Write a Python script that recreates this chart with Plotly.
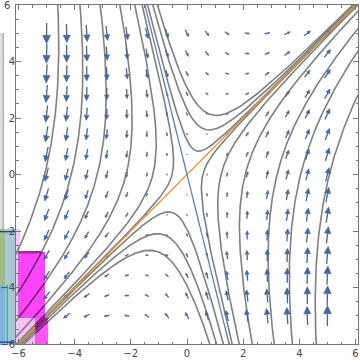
import numpy as np
import plotly.graph_objects as go

# ---------------- data ----------------
# linear field  x' = a*x + b*y ,  y' = c*x + d*y
field_a, field_b, field_c, field_d = 1.0, 1.0, 4.0, -2.0
# arrow sample positions (both axes)
grid_vals = [-5.0, -4.2857, -3.5714, -2.8571, -2.1429, -1.4286, -0.7143, 0.0,
             0.7143, 1.4286, 2.1429, 2.8571, 3.5714, 4.2857, 5.0]
# stream line seeds: x where each line crosses the top edge (y=6) / bottom edge (y=-6)
top_entry_x = [-4.6, -3.81, -3.09, -2.38, -1.85, -1.59, -1.41, -1.23, -1.06]
bottom_entry_x = [4.6, 3.75, 3.1, 2.32, 1.85, 1.6, 1.3, 1.06, 0.82]
# eigen-directions drawn as lines (slopes)
unstable_slope = 1.0
stable_slope = -4.0
tick_vals = [-6, -4, -2, 0, 2, 4, 6]
tick_text = ["−6", "−4", "−2", "0", "2", "4", "6"]

# ---------------- geometry ----------------
W, H = 360, 364
ML, MR, MT, MB = 16, 2, 5, 20
xr = [-6.09, 6.09]
yr = [-6.0, 6.002]
sx = (W - ML - MR) / (xr[1] - xr[0])
sy = (H - MT - MB) / (yr[1] - yr[0])
PW, PH = W - ML - MR, H - MT - MB


def field(x, y):
    return field_a * x + field_b * y, field_c * x + field_d * y


# eigen decomposition (analytic trajectories)
Amat = np.array([[field_a, field_b], [field_c, field_d]])
evals, evecs = np.linalg.eig(Amat)
Vinv = np.linalg.inv(evecs)


def trajectory(x0, y0):
    coef = Vinv @ np.array([x0, y0])
    t = np.linspace(-4, 4, 6000)
    pts = np.outer(coef[0] * np.exp(evals[0] * t), evecs[:, 0]) + \
        np.outer(coef[1] * np.exp(evals[1] * t), evecs[:, 1])
    xs, ys = pts[:, 0].copy(), pts[:, 1].copy()
    bad = (np.abs(xs) > 7) | (np.abs(ys) > 7)
    xs[bad] = np.nan
    ys[bad] = np.nan
    return xs, ys


# magenta highlight boxes (pixel coords) -> data coords, used to tint lines passing over them
magenta_px = [(18, 252, 45, 318), (35, 318, 48, 345)]
magenta_data = [((a - ML) / sx + xr[0], yr[1] - (d - MT) / sy,
                 (c - ML) / sx + xr[0], yr[1] - (b - MT) / sy) for a, b, c, d in magenta_px]


def inside_magenta(xs, ys):
    m = np.zeros(len(xs), dtype=bool)
    for x0, y0, x1, y1 in magenta_data:
        m |= (xs >= x0) & (xs <= x1) & (ys >= y0) & (ys <= y1)
    return m


fig = go.Figure()

# stream lines
sl_x, sl_y, pu_x, pu_y = [], [], [], []
seeds = [(x0, 6.0) for x0 in top_entry_x] + [(x0, -6.0) for x0 in bottom_entry_x]
for x0, y0 in seeds:
    xs, ys = trajectory(x0, y0)
    sl_x += list(xs) + [None]
    sl_y += list(ys) + [None]
    with np.errstate(invalid="ignore"):
        inm = inside_magenta(xs, ys)
    pu_x += list(np.where(inm, xs, np.nan)) + [None]
    pu_y += list(np.where(inm, ys, np.nan)) + [None]
fig.add_trace(go.Scatter(x=sl_x, y=sl_y, mode="lines",
                         line=dict(color="#808080", width=1.6),
                         hoverinfo="skip", showlegend=False))

# arrows
G = np.array(grid_vals)
GX, GY = np.meshgrid(G, G)
VX, VY = field(GX, GY)
MAG = np.hypot(VX, VY)
mmax = MAG.max()
Lmax = 20.5
shaft_x, shaft_y, head_x, head_y = [], [], [], []
for cx, cy, vx, vy, m in zip(GX.ravel(), GY.ravel(), VX.ravel(), VY.ravel(), MAG.ravel()):
    if m == 0:
        continue
    L = Lmax * m / mmax
    dpx, dpy = vx * sx, vy * sy
    n = np.hypot(dpx, dpy)
    ux, uy = dpx / n, dpy / n
    nx, ny = -uy, ux
    hl, hw = 0.4 * L, 0.19 * L
    tail = (-L / 2 * ux, -L / 2 * uy)
    tip = (L / 2 * ux, L / 2 * uy)
    base = (tip[0] - hl * ux, tip[1] - hl * uy)

    def d(p):
        return cx + p[0] / sx, cy + p[1] / sy
    a, b = d(tail), d(base)
    shaft_x += [a[0], b[0], None]
    shaft_y += [a[1], b[1], None]
    p1 = d((base[0] + hw * nx, base[1] + hw * ny))
    p2 = d(tip)
    p3 = d((base[0] - hw * nx, base[1] - hw * ny))
    head_x += [p1[0], p2[0], p3[0], p1[0], None]
    head_y += [p1[1], p2[1], p3[1], p1[1], None]

arrow_col = "#45679a"
fig.add_trace(go.Scatter(x=shaft_x, y=shaft_y, mode="lines",
                         line=dict(color=arrow_col, width=1.3),
                         hoverinfo="skip", showlegend=False))
fig.add_trace(go.Scatter(x=head_x, y=head_y, mode="lines", fill="toself",
                         fillcolor=arrow_col, line=dict(color=arrow_col, width=0.6),
                         hoverinfo="skip", showlegend=False))

# eigen lines
ex = np.array([-7.0, 7.0])
fig.add_trace(go.Scatter(x=ex, y=unstable_slope * ex, mode="lines",
                         line=dict(color="#e19c24", width=1.3),
                         hoverinfo="skip", showlegend=False))
fig.add_trace(go.Scatter(x=ex, y=stable_slope * ex, mode="lines",
                         line=dict(color="#5e81b5", width=1.3),
                         hoverinfo="skip", showlegend=False))

# lines seen through the magenta highlight look purple
fig.add_trace(go.Scatter(x=pu_x, y=pu_y, mode="lines",
                         line=dict(color="#851a85", width=1.6),
                         hoverinfo="skip", showlegend=False))

# ---------------- overlay artefacts on the left edge (pixel boxes) ----------------


def px_rect(x0, y0, x1, y1, color, layer="below"):
    return dict(type="rect", xref="paper", yref="paper",
                x0=(x0 - ML) / PW, x1=(x1 - ML) / PW,
                y0=1 - (y0 - MT) / PH, y1=1 - (y1 - MT) / PH,
                fillcolor=color, line=dict(width=0), layer=layer)


shapes = [
    px_rect(0, 33, 3, 229, "#dedede"),
    px_rect(2.5, 33, 4, 229, "#b4b4b4"),
    px_rect(0, 229, 5, 285, "#9fbc8c"),
    px_rect(0, 285, 5, 345, "#7ab6d9"),
    px_rect(5, 229, 16, 345, "#a8c6d6"),
    px_rect(6.5, 285, 8, 345, "#38b4a4"),
    px_rect(16, 229, 20, 345, "#f6c8f6"),
    px_rect(18, 252, 45, 318, "#ff44ff"),
    px_rect(18, 251, 43, 253.5, "#c010c0"),
    px_rect(18, 318, 35, 345, "#f8c0f8"),
    px_rect(35, 318, 48, 345, "#ff55ff"),
    px_rect(0, 231, 16, 232.3, "#2a3a9a"),
    px_rect(0, 341.5, 16, 342.8, "#2a3a9a"),
]

tick_font = dict(family="DejaVu Sans", size=10, color="#444444")
axis_common = dict(showline=True, mirror="allticks", linecolor="#777777", linewidth=1,
                   ticks="inside", ticklen=5, tickcolor="#777777", tickwidth=1,
                   showgrid=False, zeroline=False, automargin=False,
                   tickfont=tick_font,
                   minor=dict(ticks="inside", ticklen=2.5, tickcolor="#777777", dtick=0.5,
                              showgrid=False),
                   tickmode="array", tickvals=tick_vals)

# top y label drawn as an annotation (plotly drops it at the very edge)
y_text = tick_text[:-1] + [""]
annotations = [dict(xref="paper", yref="y", x=-4 / PW, y=tick_vals[-1], text=tick_text[-1],
                    showarrow=False, xanchor="right", yanchor="middle", font=tick_font)]

fig.update_layout(
    width=W, height=H,
    margin=dict(l=ML, r=MR, t=MT, b=MB, pad=0, autoexpand=False),
    paper_bgcolor="white", plot_bgcolor="white",
    xaxis=dict(range=xr, ticktext=tick_text, **axis_common),
    yaxis=dict(range=yr, ticktext=y_text, ticklabelstandoff=-2, **axis_common),
    shapes=shapes,
    annotations=annotations,
    showlegend=False,
)

fig.write_html("out.html", config={"displayModeBar": False},
               post_script="document.body.style.margin='0px';document.body.style.overflow='hidden';")
